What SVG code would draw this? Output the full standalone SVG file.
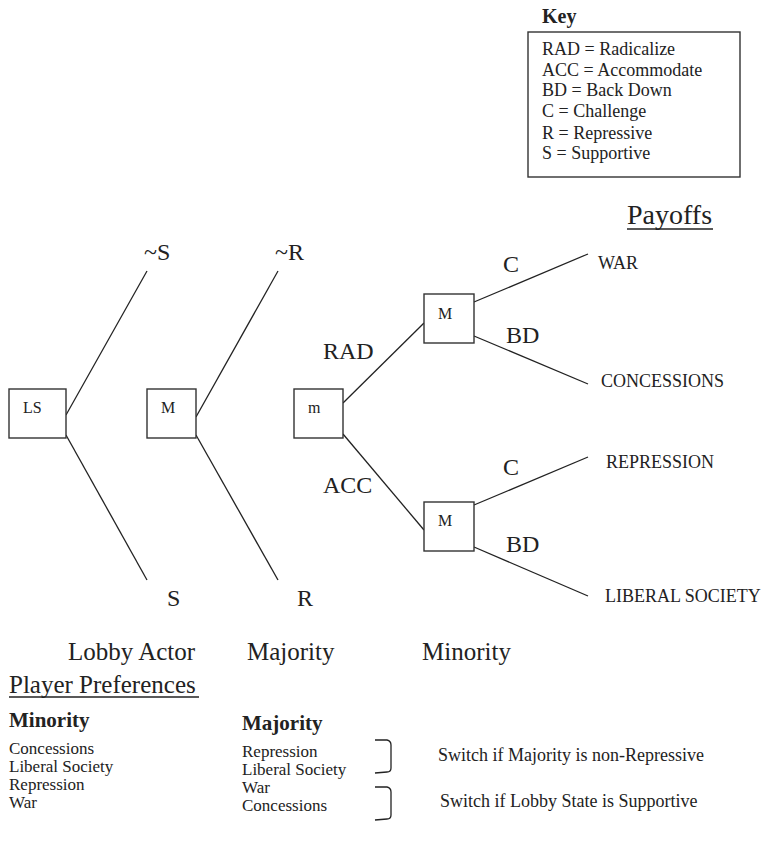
<svg xmlns="http://www.w3.org/2000/svg" width="765" height="852" viewBox="0 0 765 852" font-family="'Liberation Serif', 'DejaVu Serif', serif">
<style>
text{font-family:'Liberation Serif','DejaVu Serif',serif;fill:#222}
.k{font-size:18px}
.p{font-size:17px}
.b{font-weight:bold}
.lab{font-size:24px}
.nd{font-size:16px}
.po{font-size:18px}
.ax{font-size:25px}
.box{fill:#fff;stroke:#333;stroke-width:1.4}
.ln{stroke:#222;stroke-width:1.3;fill:none}
</style>
<rect width="765" height="852" fill="#fff"/>
<g id="key">
<text x="542" y="23" class="b" style="font-size:20px">Key</text>
<rect x="528" y="32" width="212" height="145" class="box"/>
<text class="k" x="542" y="55">RAD = Radicalize</text>
<text class="k" x="542" y="76">ACC = Accommodate</text>
<text class="k" x="542" y="96">BD = Back Down</text>
<text class="k" x="542" y="117">C = Challenge</text>
<text class="k" x="542" y="139">R = Repressive</text>
<text class="k" x="542" y="159">S = Supportive</text>
</g>
<g id="payoffs-title">
<text x="627" y="224" style="font-size:28px">Payoffs</text>
<line x1="627" y1="229" x2="713" y2="229" stroke="#222" stroke-width="1.6"/>
</g>
<g id="connectors">
<line class="ln" x1="66" y1="415" x2="147" y2="271"/>
<line class="ln" x1="66" y1="435" x2="147" y2="580"/>
<line class="ln" x1="196" y1="417" x2="278" y2="271"/>
<line class="ln" x1="196" y1="435" x2="278" y2="580"/>
<line class="ln" x1="343" y1="403" x2="424" y2="323"/>
<line class="ln" x1="343" y1="434" x2="424" y2="530"/>
<line class="ln" x1="474" y1="302" x2="588" y2="254"/>
<line class="ln" x1="474" y1="336" x2="588" y2="384"/>
<line class="ln" x1="474" y1="505" x2="588" y2="457"/>
<line class="ln" x1="474" y1="547" x2="588" y2="596"/>
</g>
<g id="edge-labels">
<text class="lab" x="144" y="260">~S</text>
<text class="lab" x="275" y="260">~R</text>
<text class="lab" x="167" y="606">S</text>
<text class="lab" x="297" y="606">R</text>
<text class="lab" x="323" y="359">RAD</text>
<text class="lab" x="323" y="493">ACC</text>
<text class="lab" x="503" y="272">C</text>
<text class="lab" x="506" y="343">BD</text>
<text class="lab" x="503" y="475">C</text>
<text class="lab" x="506" y="552">BD</text>
</g>
<g id="node-LS">
<rect x="9" y="389" width="57" height="49" class="box"/>
<text class="nd" x="23" y="413">LS</text>
</g>
<g id="node-M1">
<rect x="147" y="389" width="49" height="49" class="box"/>
<text class="nd" x="161" y="413">M</text>
</g>
<g id="node-m">
<rect x="294" y="389" width="49" height="49" class="box"/>
<text class="nd" x="308" y="413">m</text>
</g>
<g id="node-M2">
<rect x="424" y="294" width="50" height="49" class="box"/>
<text class="nd" x="438" y="319">M</text>
</g>
<g id="node-M3">
<rect x="424" y="502" width="50" height="49" class="box"/>
<text class="nd" x="438" y="526">M</text>
</g>
<g id="payoffs">
<text class="po" x="598" y="269">WAR</text>
<text class="po" x="601" y="387">CONCESSIONS</text>
<text class="po" x="606" y="468">REPRESSION</text>
<text class="po" x="605" y="602">LIBERAL SOCIETY</text>
</g>
<g id="players">
<text class="ax" x="68" y="660">Lobby Actor</text>
<text class="ax" x="247" y="660">Majority</text>
<text class="ax" x="422" y="660">Minority</text>
</g>
<g id="preferences">
<text class="ax" x="9" y="693">Player Preferences</text>
<line x1="9" y1="697" x2="199" y2="697" stroke="#222" stroke-width="1.5"/>
<text class="b" x="9" y="727" style="font-size:21px">Minority</text>
<text class="p" x="9" y="754">Concessions</text>
<text class="p" x="9" y="772">Liberal Society</text>
<text class="p" x="9" y="790">Repression</text>
<text class="p" x="9" y="808">War</text>
<text class="b" x="242" y="730" style="font-size:21px">Majority</text>
<text class="p" x="242" y="757">Repression</text>
<text class="p" x="242" y="775">Liberal Society</text>
<text class="p" x="242" y="793">War</text>
<text class="p" x="242" y="811">Concessions</text>
<path class="ln" d="M375,740 L387,740 Q391,741 391,745 L391,768 Q391,772 387,772 L375,773"/>
<path class="ln" d="M375,787 L387,787 Q391,788 391,792 L391,815 Q391,819 387,819 L375,820"/>
<text class="k" x="438" y="761">Switch if Majority is non-Repressive</text>
<text class="k" x="440" y="807">Switch if Lobby State is Supportive</text>
</g>
</svg>
